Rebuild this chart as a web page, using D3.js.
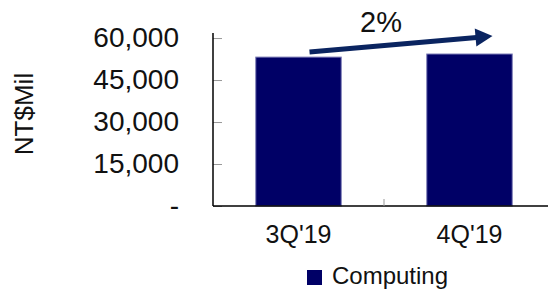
<!DOCTYPE html>
<html>
<head>
<meta charset="utf-8">
<script src="https://cdn.jsdelivr.net/npm/d3@7"></script>
<style>
  body { margin: 0; background: #fff; }
  text { font-family: "Liberation Sans", Arial, sans-serif; fill: #111; }
</style>
</head>
<body>
<div id="chart"></div>
<script>
// data
var quarters = ["3Q'19", "4Q'19"];
var computing = [53200, 54300];
var yTicks = [0, 15000, 30000, 45000, 60000];
var seriesName = "Computing";

var W = 548, H = 291;
var margin = {top: 33, right: -7, bottom: 85, left: 213};

var svg = d3.select("#chart")
  .append("svg")
    .attr("width", W)
    .attr("height", H);

var x = d3.scaleBand()
    .domain(quarters)
    .range([margin.left, W - margin.right])
    .paddingInner(0.5)
    .paddingOuter(0.25);

var y = d3.scaleLinear()
    .domain([0, 61800])
    .range([H - margin.bottom, margin.top]);

// bars
svg.selectAll("rect.bar")
  .data(computing)
  .enter().append("rect")
    .attr("class", "bar")
    .attr("x", function(d, i) { return x(quarters[i]); })
    .attr("y", function(d) { return y(d); })
    .attr("width", x.bandwidth())
    .attr("height", function(d) { return y(0) - y(d); })
    .attr("fill", "#000066")
    .attr("stroke", "#8080b8")
    .attr("stroke-width", 1);

// y axis: ticks inside, labels far left
var yAxis = svg.append("g")
  .attr("transform", "translate(" + margin.left + ",0)")
  .call(d3.axisRight(y).tickValues(yTicks).tickSize(9).tickFormat(""));
yAxis.select(".domain").remove();
yAxis.selectAll(".tick line").attr("stroke", "#999");
svg.append("line")
  .attr("x1", margin.left).attr("x2", margin.left)
  .attr("y1", y(0)).attr("y2", margin.top)
  .attr("stroke", "#000").attr("stroke-width", 1.5);

svg.selectAll("text.ylab")
  .data(yTicks)
  .enter().append("text")
    .attr("class", "ylab")
    .attr("x", margin.left - 34)
    .attr("y", function(d) { return y(d) + 9; })
    .attr("text-anchor", "end")
    .style("font-size", "28px")
    .text(function(d) { return d === 0 ? "-" : d3.format(",")(d); });

// x axis
var xAxis = svg.append("g")
  .attr("transform", "translate(0," + y(0) + ")");
xAxis.append("line")
  .attr("x1", margin.left).attr("x2", W)
  .attr("stroke", "#000").attr("stroke-width", 1.5);
// category separator tick
xAxis.selectAll("line.sep")
  .data(quarters.slice(1))
  .enter().append("line")
    .attr("class", "sep")
    .attr("x1", function(d) { return x(d) - x.step() * x.paddingInner() / 2; })
    .attr("x2", function(d) { return x(d) - x.step() * x.paddingInner() / 2; })
    .attr("y1", 0).attr("y2", -7)
    .attr("stroke", "#999");

svg.selectAll("text.xlab")
  .data(quarters)
  .enter().append("text")
    .attr("class", "xlab")
    .attr("x", function(d) { return x(d) + x.bandwidth() / 2; })
    .attr("y", 243)
    .attr("text-anchor", "middle")
    .style("font-size", "25px")
    .text(function(d) { return d; });

// y title
svg.append("text")
  .attr("transform", "translate(33,114) rotate(-90)")
  .attr("text-anchor", "middle")
  .style("font-size", "26px")
  .text("NT$Mil");

// growth arrow
var x0 = x(quarters[0]) + x.bandwidth() / 2 + 11,
    y0 = y(computing[0]) - 5,
    x1 = x(quarters[1]) + x.bandwidth() / 2 + 23,
    y1 = y(computing[1]) - 18;
var ang = Math.atan2(y1 - y0, x1 - x0);
var headLen = 17, headHalf = 9;
var bx = x1 - headLen * Math.cos(ang), by = y1 - headLen * Math.sin(ang);
svg.append("line")
  .attr("x1", x0).attr("y1", y0)
  .attr("x2", bx + 1).attr("y2", by)
  .attr("stroke", "#0a2460").attr("stroke-width", 5);
svg.append("path")
  .attr("d", d3.line()([
    [x1, y1],
    [bx - headHalf * Math.sin(ang), by + headHalf * Math.cos(ang)],
    [bx + headHalf * Math.sin(ang), by - headHalf * Math.cos(ang)]
  ]) + "Z")
  .attr("fill", "#0a2460");

var growth = Math.round((computing[1] / computing[0] - 1) * 100);
svg.append("text")
  .attr("x", (x(quarters[0]) + x(quarters[1]) + x.bandwidth()) / 2 - 3)
  .attr("y", 32)
  .attr("text-anchor", "middle")
  .style("font-size", "29px")
  .text(growth + "%");

// legend
var lg = svg.append("g").attr("transform", "translate(307,270)");
lg.append("rect")
  .attr("width", 15).attr("height", 15)
  .attr("fill", "#000066");
lg.append("text")
  .attr("x", 25).attr("y", 14)
  .style("font-size", "24px")
  .text(seriesName);
</script>
</body>
</html>
